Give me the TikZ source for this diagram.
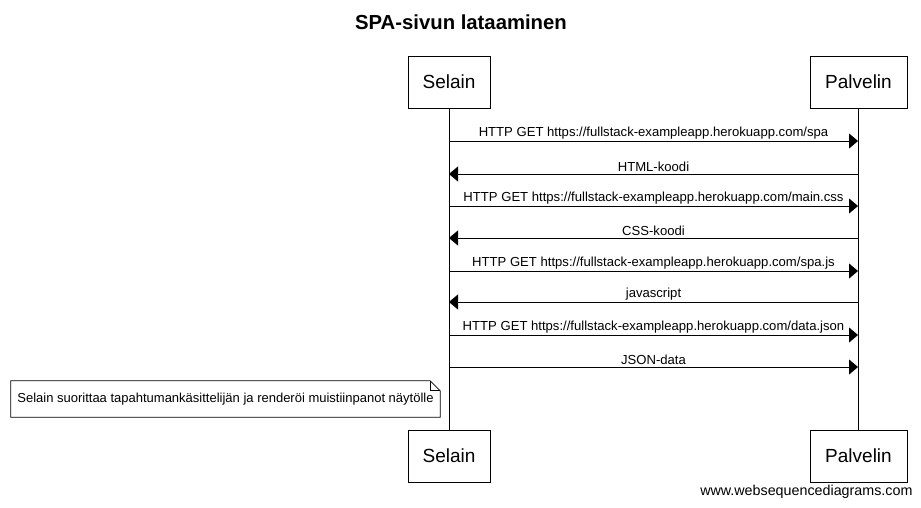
\documentclass[tikz,border=0pt]{standalone}
\usepackage{fontspec}
\setmainfont{Liberation Sans}
\usetikzlibrary{arrows.meta}

\begin{document}
\begin{tikzpicture}[x=1pt,y=-1pt,
  actor/.style={draw,line width=0.8pt,minimum width=82pt,minimum height=52pt,inner sep=0pt,font=\fontsize{19}{21}\selectfont},
  actorb/.style={actor,minimum width=97pt},
  life/.style={line width=0.8pt},
  msg/.style={line width=0.8pt,-{Triangle[length=9pt,width=15pt]}},
  lbl/.style={above,inner sep=1.5pt,font=\fontsize{13.1}{15}\selectfont},
  notetext/.style={inner sep=0pt,minimum width=429pt,minimum height=36pt,font=\fontsize{13}{15}\selectfont}]
  \useasboundingbox (0,0) rectangle (921,508);
  \node[font=\bfseries\fontsize{20.3}{22}\selectfont] (title) at (461,22) {SPA-sivun lataaminen};
  \node[actor] (selTop) at (449,82) {Selain};
  \node[actorb] (palTop) at (858.5,82) {Palvelin};
  \node[actor] (selBot) at (449,456) {Selain};
  \node[actorb] (palBot) at (858.5,456) {Palvelin};
  \draw[life] (selTop) -- (selBot);
  \draw[life] (palTop) -- (palBot);
  % message rows
  \foreach \i/\y in {1/141,2/174,3/206,4/238,5/271,6/302,7/335,8/367} {
    \coordinate (s\i) at (449,\y);
    \coordinate (p\i) at (858,\y);
  }
  \draw[msg] (s1) -- node[lbl] {HTTP GET https://fullstack-exampleapp.herokuapp.com/spa} (p1);
  \draw[msg] (p2) -- node[lbl] {HTML-koodi} (s2);
  \draw[msg] (s3) -- node[lbl] {HTTP GET https://fullstack-exampleapp.herokuapp.com/main.css} (p3);
  \draw[msg] (p4) -- node[lbl] {CSS-koodi} (s4);
  \draw[msg] (s5) -- node[lbl] {HTTP GET https://fullstack-exampleapp.herokuapp.com/spa.js} (p5);
  \draw[msg] (p6) -- node[lbl] {javascript} (s6);
  \draw[msg] (s7) -- node[lbl] {HTTP GET https://fullstack-exampleapp.herokuapp.com/data.json} (p7);
  \draw[msg] (s8) -- node[lbl] {JSON-data} (p8);
  % note
  \node[notetext] (note) at (225.5,399) {Selain suorittaa tapahtumankäsittelijän ja renderöi muistiinpanot näytölle};
  \draw[line width=0.8pt] (note.north west) -- ([xshift=-10pt]note.north east) -- ([yshift=-10pt]note.north east)
    -- (note.south east) -- (note.south west) -- cycle;
  \draw[line width=0.8pt] ([xshift=-10pt]note.north east) -- ([xshift=-10pt,yshift=-10pt]note.north east) -- ([yshift=-10pt]note.north east);
  \node[anchor=east,font=\fontsize{14.3}{16}\selectfont] (wsd) at (916,492) {www.websequencediagrams.com};
\end{tikzpicture}
\end{document}
